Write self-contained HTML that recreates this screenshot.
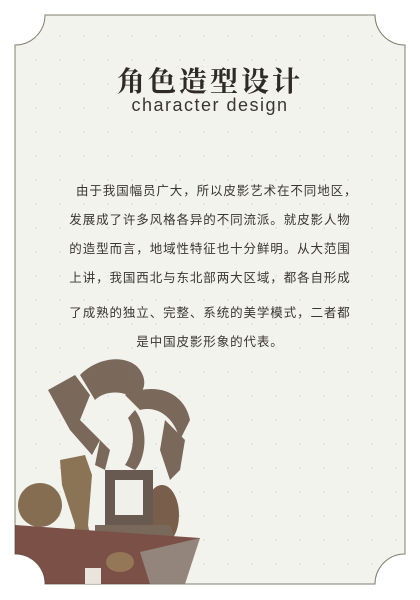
<!DOCTYPE html>
<html><head><meta charset="utf-8"><style>
html,body{margin:0;padding:0;background:#fff;}
body{width:420px;height:600px;position:relative;overflow:hidden;font-family:"Liberation Serif","Noto Serif CJK SC",serif;}
svg{position:absolute;left:0;top:0;}
.t{position:absolute;left:0;width:420px;text-align:center;color:#3a3630;white-space:nowrap;}
#title{top:60px;font-size:28px;font-weight:bold;letter-spacing:3px;color:#2e2a24;}
#sub{top:95px;font-family:"Liberation Sans",sans-serif;font-size:18px;letter-spacing:1.5px;color:#3a3630;}
.p{position:absolute;left:0;width:420px;text-align:center;font-size:12.5px;letter-spacing:0.9px;color:#3a3630;font-family:"Liberation Serif","Noto Sans CJK SC",sans-serif;line-height:16px;white-space:nowrap;}
</style></head><body>
<svg width="420" height="600">
<defs><pattern id="dots" width="24" height="24" patternUnits="userSpaceOnUse"><circle cx="12" cy="12" r="0.8" fill="#d6d6cc"/></pattern></defs>
<path d="M45,15 L375,15 A30,30 0 0 0 405,45 L405,554 A30,30 0 0 0 375,584 L45,584 A30,30 0 0 0 15,554 L15,45 A30,30 0 0 0 45,15 Z" fill="#f3f3ee" stroke="#807c70" stroke-width="1"/>
<path d="M45,15 L375,15 A30,30 0 0 0 405,45 L405,554 A30,30 0 0 0 375,584 L45,584 A30,30 0 0 0 15,554 L15,45 A30,30 0 0 0 45,15 Z" fill="url(#dots)"/>
<g fill="#6e5a4c" stroke="none" opacity="0.9">
<path d="M48,390 L75,375 L90,395 L80,420 L100,440 L92,455 L70,430 Z"/>
<path d="M80,375 C100,355 130,355 140,370 C150,385 140,395 135,400 C125,390 105,390 95,400 Z"/>
<path d="M125,395 C160,380 185,395 190,420 L180,440 C175,420 160,405 140,410 Z"/>
<path d="M135,410 C150,430 145,460 135,470 L125,465 C135,450 135,430 128,418 Z"/>
<path d="M100,440 L110,450 L105,470 L95,465 Z"/>
<path d="M165,420 L185,440 L180,470 L170,480 L160,450 Z"/>
<ellipse cx="162" cy="515" rx="17" ry="30" fill="#6b4e3a"/>
<circle cx="40" cy="505" r="22" fill="#7a5f42"/>
<path d="M60,460 L85,455 L92,475 L88,525 L95,560 L70,565 L75,525 L62,485 Z" fill="#806646"/>
<rect x="105" y="470" width="48" height="55" fill="#5a4a40"/>
<rect x="115" y="480" width="28" height="35" fill="#f0f0ea"/>
<path d="M95,525 L170,525 L175,540 L95,540 Z"/>
<path d="M15,525 L200,538 L182,584 L45,584 A30,30 0 0 0 15,554 Z" fill="#6e3f36"/>
<path d="M140,552 L200,538 L185,584 L150,584 Z" fill="#8a7a70"/>
<ellipse cx="120" cy="562" rx="14" ry="10" fill="#8a6a46"/>
<rect x="85" y="568" width="16" height="16" fill="#e8e4dc"/>
</g>
</svg>
<div id="title" class="t">角色造型设计</div>
<div id="sub" class="t">character design</div>
<div class="p" style="top:183px">　由于我国幅员广大，所以皮影艺术在不同地区，</div>
<div class="p" style="top:212px">发展成了许多风格各异的不同流派。就皮影人物</div>
<div class="p" style="top:241px">的造型而言，地域性特征也十分鲜明。从大范围</div>
<div class="p" style="top:270px">上讲，我国西北与东北部两大区域，都各自形成</div>
<div class="p" style="top:305px">了成熟的独立、完整、系统的美学模式，二者都</div>
<div class="p" style="top:334px">是中国皮影形象的代表。</div>
</body></html>
